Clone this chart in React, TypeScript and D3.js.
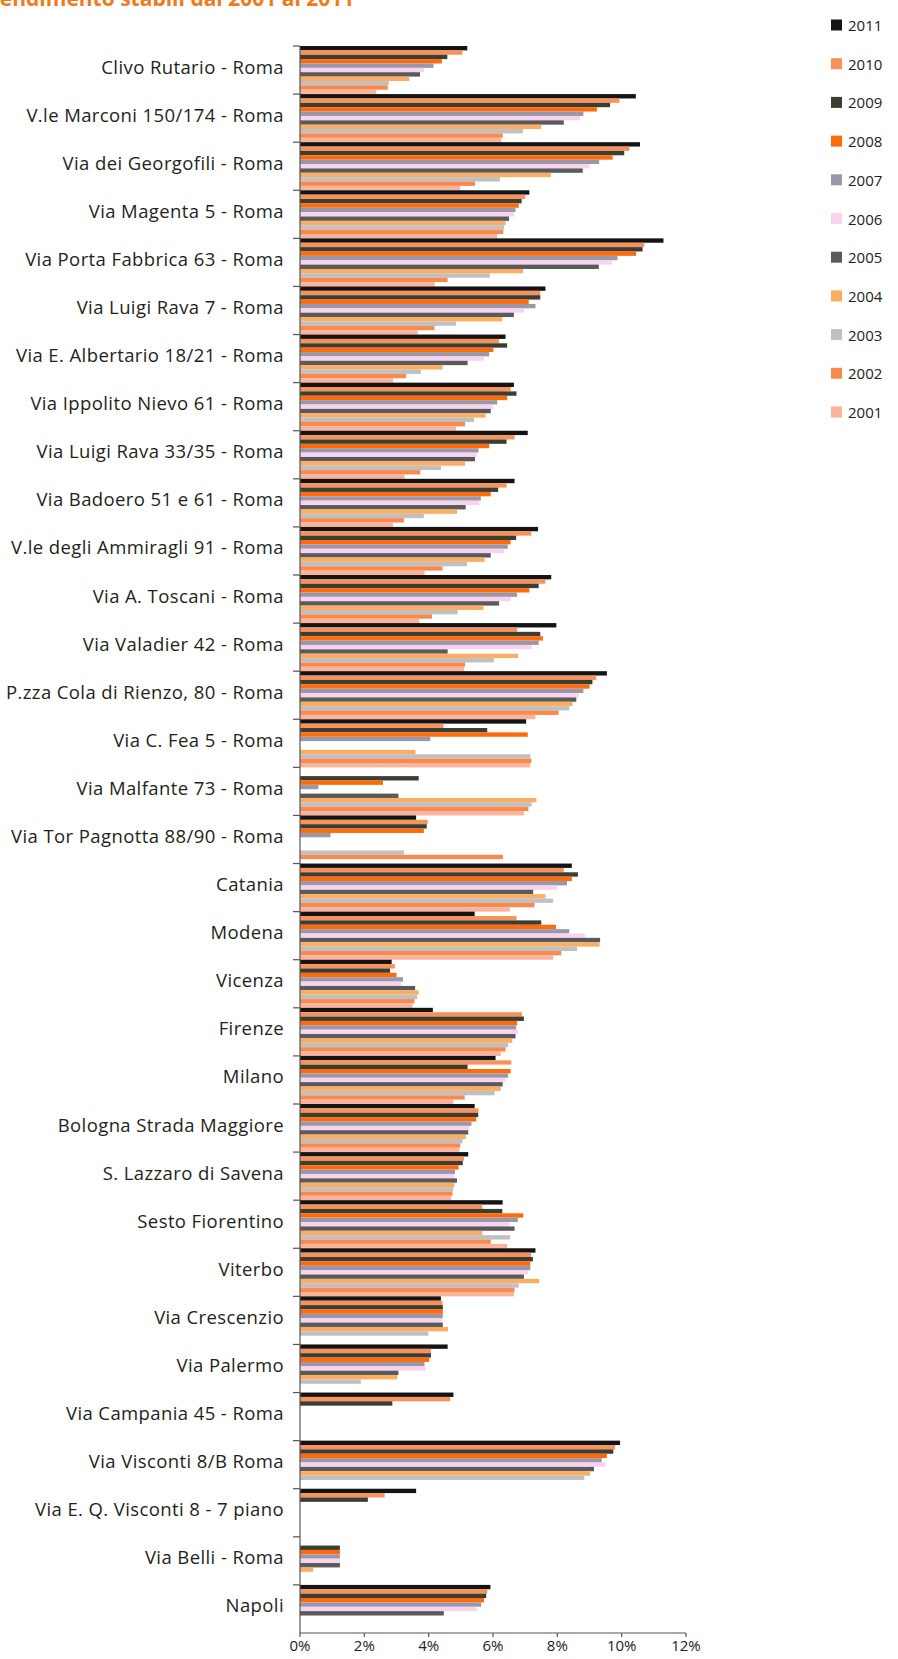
import { useEffect, useRef } from "react";
import * as d3 from "d3";

const categories = [
  "Clivo Rutario - Roma",
  "V.le Marconi 150/174 - Roma",
  "Via dei Georgofili - Roma",
  "Via Magenta 5 - Roma",
  "Via Porta Fabbrica 63 - Roma",
  "Via Luigi Rava 7 - Roma",
  "Via E. Albertario 18/21 - Roma",
  "Via Ippolito Nievo 61 - Roma",
  "Via Luigi Rava 33/35 - Roma",
  "Via Badoero 51 e 61 - Roma",
  "V.le degli Ammiragli 91 - Roma",
  "Via A. Toscani - Roma",
  "Via Valadier 42 - Roma",
  "P.zza Cola di Rienzo, 80 - Roma",
  "Via C. Fea 5 - Roma",
  "Via Malfante 73 - Roma",
  "Via Tor Pagnotta 88/90 - Roma",
  "Catania",
  "Modena",
  "Vicenza",
  "Firenze",
  "Milano",
  "Bologna Strada Maggiore",
  "S. Lazzaro di Savena",
  "Sesto Fiorentino",
  "Viterbo",
  "Via Crescenzio",
  "Via Palermo",
  "Via Campania 45 - Roma",
  "Via Visconti 8/B Roma",
  "Via E. Q. Visconti 8 - 7 piano",
  "Via Belli - Roma",
  "Napoli",
];

const years = ["2011", "2010", "2009", "2008", "2007", "2006", "2005", "2004", "2003", "2002", "2001"];
const yearColors = [
  "#141414", "#f7935a", "#3d3d33", "#ff6a0a", "#9a98a8", "#f7d3ef",
  "#5a5a5a", "#fbad62", "#c0bfc2", "#f98a4e", "#fbb49c",
];

// values in %, one array per year, same order as categories
const v2011 = [5.2, 10.44, 10.57, 7.13, 11.3, 7.63, 6.39, 6.65, 7.08, 6.67, 7.4, 7.81, 7.97, 9.54, 7.03, 0, 3.61, 8.45, 5.43, 2.85, 4.13, 6.08, 5.43, 5.23, 6.3, 7.32, 4.38, 4.59, 4.77, 9.95, 3.61, 0, 5.92];
const v2010 = [5.05, 9.93, 10.24, 7.0, 10.7, 7.47, 6.19, 6.55, 6.67, 6.42, 7.19, 7.63, 6.75, 9.21, 4.46, 0, 3.97, 8.2, 6.73, 2.95, 6.9, 6.57, 5.55, 5.1, 5.67, 7.19, 4.43, 4.07, 4.67, 9.8, 2.63, 0, 5.82];
const v2009 = [4.58, 9.64, 10.08, 6.89, 10.65, 7.47, 6.44, 6.73, 6.42, 6.16, 6.72, 7.42, 7.47, 9.09, 5.82, 3.69, 3.94, 8.64, 7.5, 2.8, 6.96, 5.21, 5.54, 5.06, 6.29, 7.24, 4.44, 4.07, 2.87, 9.74, 2.11, 1.24, 5.79];
const v2008 = [4.41, 9.23, 9.72, 6.8, 10.45, 7.11, 6.01, 6.44, 5.88, 5.93, 6.55, 7.13, 7.55, 9.0, 7.08, 2.58, 3.85, 8.45, 7.96, 3.0, 6.75, 6.55, 5.48, 4.93, 6.94, 7.16, 4.44, 4.02, 0, 9.54, 0, 1.24, 5.72];
const v2007 = [4.15, 8.81, 9.3, 6.7, 9.87, 7.32, 5.88, 6.13, 5.55, 5.62, 6.46, 6.75, 7.42, 8.81, 4.05, 0.57, 0.95, 8.3, 8.37, 3.2, 6.72, 6.47, 5.33, 4.82, 6.77, 7.16, 4.44, 3.87, 0, 9.38, 0, 1.24, 5.63];
const v2006 = [3.85, 8.7, 9.0, 6.65, 9.7, 6.96, 5.72, 6.0, 5.5, 5.57, 6.34, 6.55, 7.2, 8.66, 0, 0, 0, 8.0, 8.87, 3.15, 6.77, 6.39, 5.26, 4.8, 6.5, 7.1, 4.42, 3.9, 0, 9.5, 0, 1.24, 5.5];
const v2005 = [3.73, 8.2, 8.79, 6.5, 9.29, 6.65, 5.21, 5.93, 5.44, 5.15, 5.93, 6.19, 4.59, 8.59, 0, 3.06, 0, 7.25, 9.33, 3.58, 6.7, 6.3, 5.23, 4.88, 6.67, 6.96, 4.44, 3.06, 0, 9.14, 0, 1.24, 4.47];
const v2004 = [3.4, 7.5, 7.8, 6.39, 6.93, 6.29, 4.43, 5.77, 5.13, 4.88, 5.74, 5.7, 6.78, 8.47, 3.59, 7.35, 0, 7.63, 9.31, 3.69, 6.6, 6.24, 5.15, 4.8, 5.67, 7.44, 4.6, 3.02, 0, 9.02, 0, 0.41, 0];
const v2003 = [2.76, 6.93, 6.22, 6.34, 5.9, 4.85, 3.76, 5.41, 4.38, 3.85, 5.19, 4.9, 6.03, 8.37, 7.16, 7.2, 3.23, 7.87, 8.61, 3.64, 6.47, 6.05, 5.05, 4.76, 6.53, 6.8, 3.99, 1.89, 0, 8.84, 0, 0, 0];
const v2002 = [2.73, 6.3, 5.44, 6.32, 4.59, 4.18, 3.3, 5.13, 3.74, 3.23, 4.43, 4.1, 5.13, 8.04, 7.19, 7.1, 6.31, 7.29, 8.12, 3.56, 6.39, 5.12, 4.98, 4.74, 5.93, 6.67, 0, 0, 0, 0, 0, 0, 0];
const v2001 = [2.37, 6.26, 4.98, 6.13, 4.18, 3.66, 2.89, 4.85, 3.25, 2.89, 3.87, 3.71, 5.1, 7.32, 7.16, 6.96, 0, 6.52, 7.87, 3.5, 6.24, 4.77, 4.95, 4.7, 6.44, 6.65, 0, 0, 0, 0, 0, 0, 0];

const seriesValues = [v2011, v2010, v2009, v2008, v2007, v2006, v2005, v2004, v2003, v2002, v2001];
const xTicks = [0, 2, 4, 6, 8, 10, 12];

type Bar = { category: string; year: string; color: string; value: number };

export default function App() {
  const svgRef = useRef<SVGSVGElement | null>(null);

  useEffect(() => {
    document.body.style.margin = "0";
    const svgElement = svgRef.current;
    if (!svgElement) return;

    const width = 898;
    const height = 1659;
    const font = "'Open Sans', 'DejaVu Sans', sans-serif";

    const x = d3.scaleLinear().domain([0, 12]).range([300, 686]);
    const y = d3.scaleBand().domain(categories).range([46, 1633]).padding(0);
    const ySub = d3.scaleBand().domain(years).range([0, y.bandwidth()]).padding(0);

    const bars: Bar[] = [];
    categories.forEach((category, i) => {
      years.forEach((year, j) => {
        bars.push({ category, year, color: yearColors[j], value: seriesValues[j][i] });
      });
    });

    const svg = d3.select(svgElement);
    svg.selectAll("*").remove();
    svg.attr("viewBox", `0 0 ${width} ${height}`).attr("width", width).attr("height", height);

    svg.append("rect").attr("width", width).attr("height", height).attr("fill", "#ffffff");

    // title, cut off by the top edge as in the scan
    svg
      .append("text")
      .attr("x", -14)
      .attr("y", 6)
      .attr("font-family", font)
      .attr("font-weight", 700)
      .attr("font-size", 21)
      .attr("fill", "#f07a1c")
      .text("Rendimento stabili dal 2001 al 2011");

    // bars
    svg
      .append("g")
      .selectAll("rect")
      .data(bars.filter((d) => d.value > 0))
      .join("rect")
      .attr("x", x(0))
      .attr("y", (d) => (y(d.category) ?? 0) + (ySub(d.year) ?? 0))
      .attr("width", (d) => x(d.value) - x(0))
      .attr("height", ySub.bandwidth())
      .attr("fill", (d) => d.color);

    // y axis line and group ticks
    const axis = svg.append("g").attr("stroke", "#555").attr("stroke-width", 1.2);
    axis.append("line").attr("x1", x(0)).attr("x2", x(0)).attr("y1", y.range()[0]).attr("y2", y.range()[1]);
    axis
      .selectAll("line.tick")
      .data(categories)
      .join("line")
      .attr("class", "tick")
      .attr("x1", x(0) - 7)
      .attr("x2", x(0))
      .attr("y1", (d) => y(d) ?? 0)
      .attr("y2", (d) => y(d) ?? 0);

    // x axis
    axis.append("line").attr("x1", x(0)).attr("x2", x(12)).attr("y1", y.range()[1]).attr("y2", y.range()[1]);
    axis
      .selectAll("line.xtick")
      .data(xTicks)
      .join("line")
      .attr("class", "xtick")
      .attr("x1", (d) => x(d))
      .attr("x2", (d) => x(d))
      .attr("y1", y.range()[1])
      .attr("y2", y.range()[1] + 4);

    svg
      .append("g")
      .selectAll("text")
      .data(xTicks)
      .join("text")
      .attr("x", (d) => x(d))
      .attr("y", 1651)
      .attr("text-anchor", "middle")
      .attr("font-family", font)
      .attr("font-size", 15)
      .attr("fill", "#222")
      .text((d) => `${d}%`);

    // category labels
    svg
      .append("g")
      .selectAll("text")
      .data(categories)
      .join("text")
      .attr("x", 284)
      .attr("y", (d) => (y(d) ?? 0) + y.bandwidth() / 2 - 4)
      .attr("dominant-baseline", "central")
      .attr("text-anchor", "end")
      .attr("font-family", font)
      .attr("font-size", 18.5)
      .attr("letter-spacing", 0.4)
      .attr("fill", "#231f20")
      .text((d) => d);

    // legend
    const legend = svg
      .append("g")
      .selectAll("g")
      .data(years)
      .join("g")
      .attr("transform", (_, i) => `translate(831, ${25 + i * 38.7})`);
    legend
      .append("rect")
      .attr("x", 0)
      .attr("y", -5.5)
      .attr("width", 11)
      .attr("height", 11)
      .attr("fill", (_, i) => yearColors[i]);
    legend
      .append("text")
      .attr("x", 17)
      .attr("y", 0)
      .attr("dominant-baseline", "central")
      .attr("font-family", font)
      .attr("font-size", 15)
      .attr("fill", "#222")
      .text((d) => d);
  }, []);

  return <svg ref={svgRef} style={{ display: "block" }} role="img" aria-label="Rendimento stabili" />;
}
